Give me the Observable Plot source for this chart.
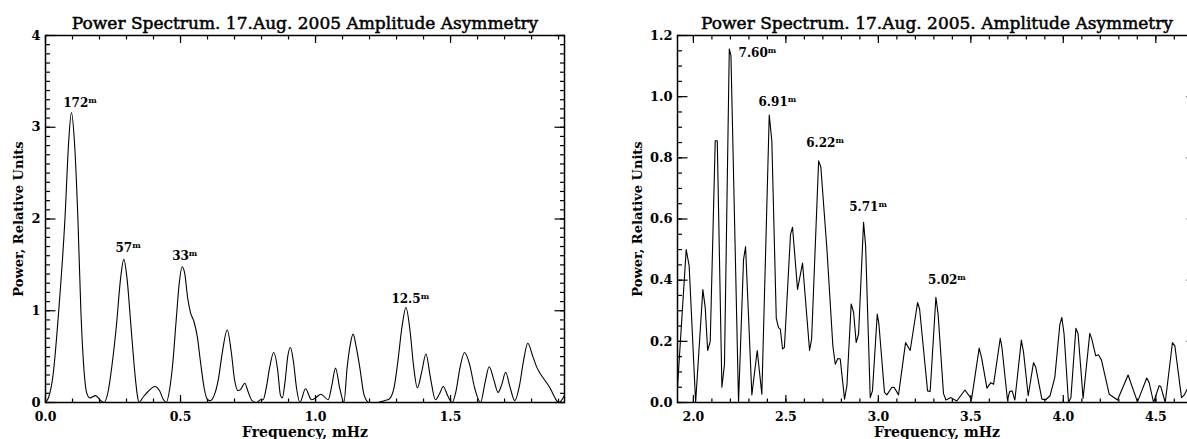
<!DOCTYPE html>
<html><head><meta charset="utf-8">
<script src="https://cdn.jsdelivr.net/npm/d3@7"></script>
<script src="https://cdn.jsdelivr.net/npm/@observablehq/plot@0.6"></script>
<style>
html,body{margin:0;padding:0;background:#fff;overflow:hidden}
#wrap{position:relative;width:1187px;height:439px;overflow:hidden;background:#fff}
#wrap svg{position:absolute;top:0}
</style></head><body><div id="wrap"></div>
<script>
// ---------- Left panel: low-frequency power spectrum ----------
const leftFreq = [0.000,0.012,0.028,0.049,0.072,0.086,0.096,0.107,0.120,0.131,0.144,0.153,0.165,0.185,0.205,0.216,
  0.232,0.246,0.263,0.278,0.290,0.302,0.316,0.330,0.340,0.346,
  0.362,0.380,0.405,0.422,0.437,0.447,
  0.460,0.472,0.484,0.496,0.506,0.516,0.526,0.537,0.550,0.562,0.575,0.588,0.600,0.610,
  0.625,0.640,0.655,0.673,0.688,0.700,0.713,0.722,0.738,0.750,0.765,0.782,0.796,0.806,
  0.817,0.830,0.845,0.860,0.870,0.877,0.888,0.897,0.907,0.918,0.930,0.942,
  0.963,0.985,1.000,1.020,1.047,1.060,1.074,1.090,1.105,1.117,1.128,1.139,1.151,1.164,1.180,1.198,
  1.230,1.255,1.272,1.290,1.305,1.320,1.335,1.350,1.363,1.377,1.393,1.409,1.425,1.444,1.460,1.473,1.490,1.506,
  1.520,1.535,1.552,1.570,1.590,1.611,1.628,1.643,1.660,1.676,1.690,1.704,1.720,1.738,1.755,1.770,1.786,1.805,
  1.820,1.833,1.850,1.870,1.885,1.901,1.922];
const leftPower = [0.00,0.06,0.30,1.00,2.00,2.85,3.16,2.85,2.00,1.00,0.30,0.10,0.05,0.075,0.02,0.00,
  0.12,0.40,0.85,1.35,1.56,1.35,0.85,0.35,0.08,0.00,
  0.06,0.12,0.175,0.13,0.03,0.00,
  0.15,0.45,0.90,1.32,1.48,1.40,1.15,0.98,0.88,0.72,0.42,0.15,0.03,0.02,
  0.08,0.25,0.55,0.79,0.55,0.25,0.13,0.14,0.21,0.12,0.02,0.00,0.03,0.03,
  0.15,0.38,0.545,0.35,0.08,0.05,0.25,0.50,0.60,0.45,0.15,0.00,
  0.15,0.03,0.05,0.09,0.03,0.18,0.375,0.15,0.00,0.38,0.62,0.745,0.60,0.38,0.08,0.00,
  0.00,0.02,0.035,0.15,0.45,0.82,1.036,0.78,0.40,0.16,0.33,0.528,0.28,0.03,0.10,0.175,0.07,0.00,
  0.12,0.38,0.545,0.42,0.15,0.00,0.22,0.39,0.25,0.11,0.20,0.33,0.17,0.02,0.18,0.45,0.645,0.50,
  0.38,0.31,0.24,0.15,0.06,0.00,0.08];
const leftPeakText = ["172","57","33","12.5"];
const leftPeakFreq = [0.0656,0.259,0.469,1.281];
const leftPeakPower = [3.217,1.636,1.553,1.08];

// ---------- Right panel: high-frequency power spectrum ----------
const rightFreq = [1.914,1.961,1.977,2.012,2.051,2.064,2.077,2.091,2.118,2.129,2.154,2.168,2.194,2.203,2.244,
  2.271,2.282,2.316,2.345,2.370,2.410,2.424,2.448,2.460,2.470,2.482,2.492,2.525,2.536,2.563,2.590,2.628,2.639,
  2.677,2.689,2.722,2.754,2.767,2.781,2.794,2.817,2.830,2.853,2.866,2.880,2.893,2.920,2.931,2.956,2.968,2.994,
  3.003,3.033,3.046,3.073,3.086,3.109,3.147,3.172,3.212,3.223,3.266,3.280,3.311,3.323,3.352,3.365,3.392,3.424,
  3.468,3.504,3.545,3.558,3.587,3.608,3.623,3.659,3.668,3.698,3.710,3.723,3.738,3.773,3.785,3.810,3.839,3.851,
  3.884,3.905,3.928,3.954,3.981,3.992,4.004,4.028,4.041,4.068,4.080,4.107,4.143,4.154,4.175,4.190,4.206,4.248,
  4.293,4.350,4.401,4.451,4.464,4.488,4.518,4.527,4.551,4.590,4.603,4.639,4.653,4.673,4.690];
const rightPower = [0.05,0.50,0.447,0.0,0.369,0.31,0.17,0.20,0.856,0.856,0.05,0.125,1.156,1.134,0.0,
  0.467,0.51,0.025,0.17,0.027,0.94,0.856,0.275,0.245,0.24,0.175,0.18,0.55,0.573,0.37,0.456,0.17,0.207,
  0.79,0.77,0.50,0.185,0.125,0.144,0.142,0.011,0.055,0.322,0.295,0.196,0.224,0.589,0.513,0.016,0.038,0.289,
  0.256,0.033,0.025,0.05,0.049,0.025,0.196,0.17,0.327,0.305,0.038,0.036,0.344,0.289,0.03,0.008,0.016,0.005,
  0.041,0.011,0.178,0.147,0.047,0.065,0.06,0.21,0.18,0.008,0.036,0.038,0.008,0.204,0.164,0.022,0.131,0.115,
  0.011,0.009,0.022,0.082,0.254,0.278,0.224,0.0,0.016,0.243,0.224,0.013,0.226,0.207,0.153,0.156,0.139,0.027,
  0.008,0.09,0.002,0.08,0.065,0.0,0.055,0.052,0.0,0.196,0.185,0.016,0.024,0.047,0.07];
const rightPeakText = ["7.60","6.91","6.22","5.71","5.02"];
const rightPeakFreq = [2.244,2.352,2.610,2.842,3.269];
const rightPeakPower = [1.129,0.970,0.837,0.627,0.387];

// ---------- Tick labels ----------
const leftXTicks = [0.0,0.5,1.0,1.5];
const leftXTickLabels = ["0.0","0.5","1.0","1.5"];
const leftYTicks = [0,1,2,3,4];
const leftYTickLabels = ["0","1","2","3","4"];
const rightXTicks = [2.0,2.5,3.0,3.5,4.0,4.5];
const rightXTickLabels = ["2.0","2.5","3.0","3.5","4.0","4.5"];
const rightYTicks = [0.0,0.2,0.4,0.6,0.8,1.0,1.2];
const rightYTickLabels = ["0.0","0.2","0.4","0.6","0.8","1.0","1.2"];

const titleLeft = "Power Spectrum. 17.Aug. 2005 Amplitude Asymmetry";
const titleRight = "Power Spectrum. 17.Aug. 2005. Amplitude Asymmetry";
const xLabel = "Frequency, mHz";
const yLabel = "Power, Relative Units";

const FONT = "'DejaVu Serif', serif";

function minorTicks(lo, hi, step) {
  const n = Math.round((hi - lo) / step);
  return d3.range(n + 1).map(i => +(lo + i * step).toFixed(4));
}

function panel(o) {
  const data = o.freq.map((f, i) => ({f, p: o.power[i]}));
  const ann = o.annText.map((t, i) => ({t, f: o.annFreq[i], p: o.annPower[i]}));
  const fmt = (ticks, labels) => v => labels[ticks.findIndex(t => Math.abs(t - v) < 1e-9)];
  const tick = (anchor, vals, len) => {
    const isX = anchor === "top" || anchor === "bottom";
    const opts = {anchor, tickSize: len, fill: "none", label: null, stroke: "#000", strokeWidth: 1.2};
    if (anchor === "bottom") opts.dy = -len;
    if (anchor === "top") opts.dy = len;
    if (anchor === "left") opts.dx = len;
    if (anchor === "right") opts.dx = -len;
    return isX ? Plot.axisX(vals, opts) : Plot.axisY(vals, opts);
  };
  const chart = Plot.plot({
    width: o.width, height: 439,
    marginLeft: o.marginLeft, marginRight: o.marginRight, marginTop: 35, marginBottom: 37,
    style: {fontFamily: FONT, background: "#fff", color: "#000"},
    x: {domain: o.xDomain},
    y: {domain: o.yDomain},
    marks: [
      Plot.line(data, {x: "f", y: "p", curve: o.curve, stroke: "#000", strokeWidth: 1.1}),
      tick("bottom", o.xMinor, 3.5), tick("top", o.xMinor, 3.5),
      tick("bottom", o.xTicks, 7), tick("top", o.xTicks, 7),
      tick("left", o.yMinor, 5), tick("right", o.yMinor, 5),
      tick("left", o.yTicks, 10.5), tick("right", o.yTicks, 10.5),
      Plot.frame({stroke: "#000", strokeWidth: 1.5}),
      Plot.axisX(o.xTicks, {anchor: "bottom", tickSize: 0, tickPadding: 9.5, label: null,
        tickFormat: fmt(o.xTicks, o.xLabels), fontSize: 12.5, fontWeight: "bold", fill: "#000"}),
      Plot.axisY(o.yTicks, {anchor: "left", tickSize: 0, tickPadding: 5, label: null,
        tickFormat: fmt(o.yTicks, o.yLabels), fontSize: 13, fontWeight: "bold", fill: "#000"}),
      Plot.text([o.title], {frameAnchor: "top", dy: -7, lineAnchor: "bottom", textAnchor: "middle",
        fontSize: 17, letterSpacing: "0.2px", fill: "#000", stroke: "#000", strokeWidth: 0.5}),
      Plot.text([xLabel], {frameAnchor: "bottom", dy: 34, lineAnchor: "bottom", textAnchor: "middle",
        fontSize: 14, fontWeight: "bold", fill: "#000"}),
      Plot.text([yLabel], {frameAnchor: "left", dx: o.yLabelDx, rotate: -90, lineAnchor: "middle", textAnchor: "middle",
        fontSize: 13, fontWeight: "bold", fill: "#000"}),
      Plot.text(ann, {x: "f", y: "p", text: "t", textAnchor: "start", lineAnchor: "bottom", fontSize: 12,
        fontWeight: "bold", fill: "#000", ariaDescription: "peak-periods"})
    ]
  });
  chart.querySelectorAll('g[aria-description="peak-periods"] text').forEach(t => {
    const s = document.createElementNS("http://www.w3.org/2000/svg", "tspan");
    s.setAttribute("dy", "-4");
    s.setAttribute("font-size", "8");
    s.textContent = "m";
    t.appendChild(s);
  });
  chart.style.left = o.left + "px";
  return chart;
}

const wrap = document.getElementById("wrap");
wrap.appendChild(panel({
  freq: leftFreq, power: leftPower, curve: "monotone-x",
  annText: leftPeakText, annFreq: leftPeakFreq, annPower: leftPeakPower,
  xDomain: [0, 1.922], yDomain: [0, 4],
  xTicks: leftXTicks, xLabels: leftXTickLabels, yTicks: leftYTicks, yLabels: leftYTickLabels,
  xMinor: minorTicks(0, 1.9, 0.1), yMinor: minorTicks(0, 4, 0.1),
  title: titleLeft, width: 600, marginLeft: 45, marginRight: 36, left: 0, yLabelDx: -27
}));
wrap.appendChild(panel({
  freq: rightFreq, power: rightPower, curve: "linear",
  annText: rightPeakText, annFreq: rightPeakFreq, annPower: rightPeakPower,
  xDomain: [1.914, 4.72], yDomain: [0, 1.2],
  xTicks: rightXTicks, xLabels: rightXTickLabels, yTicks: rightYTicks, yLabels: rightYTickLabels,
  xMinor: minorTicks(2.0, 4.7, 0.1), yMinor: minorTicks(0, 1.2, 0.05),
  title: titleRight, width: 596, marginLeft: 77, marginRight: 0, left: 600, yLabelDx: -40
}));
</script></body></html>
